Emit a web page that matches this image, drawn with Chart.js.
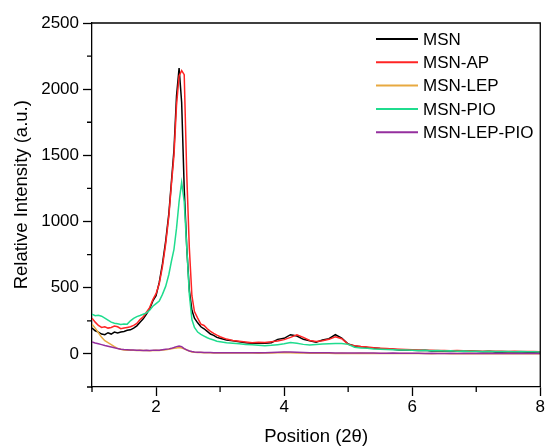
<!DOCTYPE html>
<html>
<head>
<meta charset="utf-8">
<script src="https://cdn.jsdelivr.net/npm/chart.js@4.4.1/dist/chart.umd.min.js"></script>
<style>
    html, body { margin: 0; padding: 0; background: #ffffff; }
    #wrap { width: 546px; height: 448px; }
</style>
</head>
<body>
<div id="wrap"><canvas id="xrdGraph" width="546" height="448"></canvas></div>
<script>
// x positions (2 theta)
const positions = [
    1.00, 1.05, 1.10, 1.15, 1.20, 1.25, 1.30, 1.35, 1.40, 1.45, 1.50, 1.55, 1.60, 1.65, 1.70, 1.75, 1.80, 1.85, 1.90, 1.95, 2.00, 2.05, 2.10, 2.15, 2.20,
    2.24, 2.28, 2.32, 2.36, 2.40, 2.44, 2.48, 2.52, 2.56, 2.60,
    2.65, 2.70, 2.75, 2.80, 2.85, 2.90, 2.95, 3.00,
    3.1, 3.2, 3.3, 3.4, 3.5, 3.6, 3.7, 3.8, 3.9, 4.0,
    4.1, 4.2, 4.3, 4.4, 4.5, 4.6, 4.7, 4.8, 4.9, 5.0,
    5.1, 5.2, 5.3, 5.4, 5.5, 5.6, 5.7, 5.8, 5.9, 6.0,
    6.1, 6.2, 6.3, 6.4, 6.5, 6.6, 6.7, 6.8, 6.9, 7.0,
    7.1, 7.2, 7.3, 7.4, 7.5, 7.6, 7.7, 7.8, 7.9, 8.0
];

// series values
const msn = [
    195, 175, 165, 150, 145, 160, 150, 165, 158, 165, 170, 178, 182, 195, 212, 240, 265, 300, 340, 400, 440, 540, 680, 850, 1060,
    1300, 1540, 1950, 2160, 1900, 1250, 800, 480, 330, 270,
    235, 205, 190, 170, 150, 140, 125, 118,
    105, 100, 92, 85, 80, 82, 80, 85, 110, 118,
    145, 135, 110, 100, 88, 105, 115, 145, 120, 75,
    60, 55, 48, 45, 40, 38, 35, 30, 30, 28,
    25, 28, 22, 24, 20, 22, 20, 18, 20, 18,
    17, 18, 15, 16, 15, 14, 15, 13, 14, 12
];
const msnAp = [
    270, 240, 215, 200, 205, 195, 200, 210, 205, 190, 195, 200, 205, 215, 230, 260, 280, 315, 350, 410, 455, 530, 660, 830, 1040,
    1280, 1500, 1880, 2100, 2140, 2110, 1350, 800, 440, 320,
    270, 225, 215, 190, 170, 155, 142, 130,
    112, 102, 96, 90, 85, 88, 86, 92, 98, 108,
    125, 145, 125, 102, 94, 100, 110, 130, 115, 72,
    62, 56, 52, 46, 43, 40, 38, 36, 33, 31,
    30, 28, 27, 26, 26, 24, 25, 23, 23, 22,
    21, 22, 20, 21, 19, 20, 18, 19, 18, 17
];
const msnLep = [
    225, 195, 160, 125, 100, 85, 70, 55, 42, 35, 30, 28, 30, 27, 25, 28, 25, 26, 24, 25, 27, 26, 30, 32, 35,
    38, 42, 45, 48, 45, 38, 30, 22, 15, 12,
    10, 10, 9, 8, 8, 7, 8, 7,
    6, 7, 6, 8, 6, 5, 6, 7, 8, 10,
    9, 7, 6, 5, 6, 5, 5, 4, 5, 4,
    4, 5, 4, 3, 4, 3, 4, 3, 3, 4,
    3, 3, 2, 3, 3, 2, 3, 2, 3, 2,
    2, 3, 2, 2, 3, 2, 2, 2, 2, 2
];
const msnPio = [
    300, 288, 292, 285, 270, 255, 240, 232, 228, 222, 226, 225, 250, 268, 282, 290, 300, 310, 330, 360, 380, 400, 450, 510, 600,
    700, 790, 950, 1150, 1295, 1150, 800, 450, 260, 200,
    165, 148, 135, 122, 112, 105, 96, 92,
    84, 80, 76, 72, 70, 66, 62, 65, 70, 76,
    86, 80, 72, 68, 72, 75, 76, 78, 78, 72,
    50, 45, 42, 38, 36, 34, 32, 30, 30, 28,
    26, 27, 24, 25, 22, 23, 21, 22, 20, 20,
    19, 20, 18, 19, 18, 17, 18, 16, 17, 15
];
const msnLepPio = [
    90, 82, 76, 70, 63, 58, 52, 46, 40, 36, 33, 32, 29, 30, 27, 28, 26, 27, 25, 27, 28, 28, 32, 35, 38,
    42, 48, 55, 60, 55, 40, 30, 22, 18, 15,
    13, 12, 11, 10, 10, 9, 9, 9,
    9, 8, 8, 9, 8, 8, 9, 10, 12, 15,
    14, 12, 10, 9, 9, 8, 8, 7, 7, 7,
    6, 6, 6, 6, 5, 5, 6, 5, 5, 5,
    5, 4, 5, 4, 4, 5, 4, 4, 4, 4,
    3, 4, 3, 4, 3, 3, 4, 3, 3, 3
];

const seriesNames = ["MSN", "MSN-AP", "MSN-LEP", "MSN-PIO", "MSN-LEP-PIO"];
const seriesValues = [msn, msnAp, msnLep, msnPio, msnLepPio];
const seriesColors = ["#000000", "#ff2424", "#e8a940", "#1fdc8e", "#952f9e"];

// axis settings
const xMin = 1, xMax = 8, xStep = 1;
const yMin = -250, yMax = 2500, yStep = 250;
const xLabelEvery = 2;
const yLabelEvery = 500;

const fontFamily = "'Liberation Sans', Arial, sans-serif";
Chart.defaults.font.family = fontFamily;
Chart.defaults.color = "#000";

function is_major_x(value) {
    return Math.abs(value % xLabelEvery) < 1e-6;
}

function is_major_y(value) {
    return Math.abs(value % yLabelEvery) < 1e-6;
}

// draws the top/right frame and the short minor ticks
const framePlugin = {
    id: "frame",
    afterDraw(chart) {
        const { ctx, chartArea } = chart;
        const xScale = chart.scales.x;
        const yScale = chart.scales.y;
        ctx.save();
        ctx.strokeStyle = "#000";
        ctx.lineWidth = 1.3;
        ctx.beginPath();
        ctx.moveTo(chartArea.left, chartArea.top);
        ctx.lineTo(chartArea.right, chartArea.top);
        ctx.lineTo(chartArea.right, chartArea.bottom);
        ctx.stroke();
        ctx.beginPath();
        xScale.ticks.forEach(t => {
            if (!is_major_x(t.value)) {
                const px = xScale.getPixelForValue(t.value);
                ctx.moveTo(px, chartArea.bottom);
                ctx.lineTo(px, chartArea.bottom + 5);
            }
        });
        yScale.ticks.forEach(t => {
            if (!is_major_y(t.value)) {
                const py = yScale.getPixelForValue(t.value);
                ctx.moveTo(chartArea.left, py);
                ctx.lineTo(chartArea.left - 5, py);
            }
        });
        ctx.stroke();
        ctx.restore();
    }
};

// legend drawn inside the plot area, top right
const insideLegendPlugin = {
    id: "insideLegend",
    afterDraw(chart) {
        const { ctx } = chart;
        const lineStart = 376, lineEnd = 418, textX = 423;
        const firstRow = 39, rowGap = 23.3;
        ctx.save();
        ctx.font = `17px ${fontFamily}`;
        ctx.textBaseline = "middle";
        ctx.textAlign = "left";
        chart.data.datasets.forEach((ds, i) => {
            const y = firstRow + i * rowGap;
            ctx.strokeStyle = ds.borderColor;
            ctx.lineWidth = 2;
            ctx.beginPath();
            ctx.moveTo(lineStart, y);
            ctx.lineTo(lineEnd, y);
            ctx.stroke();
            ctx.fillStyle = "#000";
            ctx.fillText(ds.label, textX, y + 1);
        });
        ctx.restore();
    }
};

function build_datasets() {
    return seriesNames.map((name, i) => ({
        label: name,
        data: positions.map((x, j) => ({ x: x, y: seriesValues[i][j] })),
        borderColor: seriesColors[i],
        backgroundColor: seriesColors[i],
        borderWidth: 1.5,
        pointRadius: 0,
        tension: 0,
        fill: false,
        order: seriesNames.length - i
    }));
}

// function to create the xrd graph
function create_xrd_graph() {
    const config = {
        type: "line",
        data: { datasets: build_datasets() },
        options: {
            responsive: false,
            animation: false,
            events: [],
            layout: { padding: { left: 0, right: 5, top: 23, bottom: 0 } },
            plugins: {
                legend: { display: false },
                tooltip: { enabled: false }
            },
            scales: {
                x: {
                    type: "linear",
                    min: xMin,
                    max: xMax,
                    border: { display: true, color: "#000", width: 1.3 },
                    grid: {
                        drawOnChartArea: false,
                        drawTicks: true,
                        tickLength: 9,
                        tickWidth: 1.3,
                        tickColor: ctx => is_major_x(ctx.tick.value) ? "#000" : "rgba(0,0,0,0)"
                    },
                    ticks: {
                        stepSize: xStep,
                        autoSkip: false,
                        maxRotation: 0,
                        padding: 1,
                        font: { size: 17 },
                        color: "#000",
                        callback: val => is_major_x(val) ? String(val) : ""
                    },
                    title: {
                        display: true,
                        text: "Position (2θ)",
                        font: { size: 18.5 },
                        color: "#000",
                        padding: { top: 0, bottom: 0 }
                    },
                    afterFit: scale => { scale.height = 61; }
                },
                y: {
                    type: "linear",
                    min: yMin,
                    max: yMax,
                    border: { display: true, color: "#000", width: 1.3 },
                    grid: {
                        drawOnChartArea: false,
                        drawTicks: true,
                        tickLength: 9,
                        tickWidth: 1.3,
                        tickColor: ctx => is_major_y(ctx.tick.value) ? "#000" : "rgba(0,0,0,0)"
                    },
                    ticks: {
                        stepSize: yStep,
                        autoSkip: false,
                        padding: 4,
                        font: { size: 17 },
                        color: "#000",
                        callback: val => (is_major_y(val) && val >= 0) ? String(val) : ""
                    },
                    title: {
                        display: true,
                        text: "    Relative Intensity (a.u.)",
                        font: { size: 18.5 },
                        color: "#000",
                        padding: { top: 11, bottom: 0 }
                    },
                    afterFit: scale => { scale.width = 92; }
                }
            }
        },
        plugins: [framePlugin, insideLegendPlugin]
    };
    return new Chart("xrdGraph", config);
}

create_xrd_graph();
</script>
</body>
</html>
